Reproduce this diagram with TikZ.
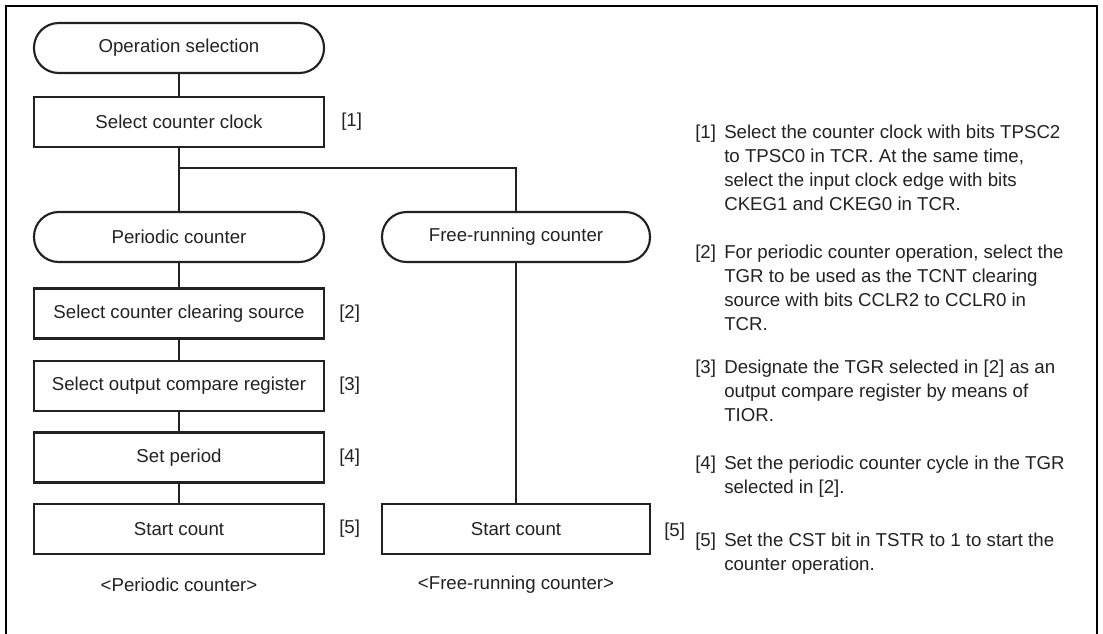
\documentclass[tikz,border=0pt]{standalone}
\usepackage{fontspec}
\setmainfont{Liberation Sans}
\definecolor{ink}{HTML}{222222}
\def\px{0.75pt}
\begin{document}
\begin{tikzpicture}[x=0.75pt,y=-0.75pt,
  every node/.style={text=ink, font=\fontsize{14}{18}\selectfont},
  term/.style={draw=ink, line width=1.6pt, rounded corners=18.5pt, minimum width=290*\px, minimum height=50*\px, inner sep=0pt},
  procbox/.style={draw=ink, line width=1.6pt, minimum width=290*\px, minimum height=50*\px, inner sep=0pt},
  conn/.style={draw=ink, line width=0.9pt},
  tag/.style={anchor=west, inner sep=0pt},
  note/.style={anchor=north west, inner sep=0pt, align=left}]
\useasboundingbox (0,0) rectangle (1103,633);
% frame
\draw[line width=1.6pt, black] (6,640) -- (6,6) -- (1097,6) -- (1097,640);
% left column
\node[term]    (op)  at (179,48)  {Operation selection};
\node[procbox] (clk) at (179,122) {Select counter clock};
\node[term]    (per) at (179,237) {Periodic counter};
\node[term, minimum width=268*\px] (fr) at (516,237) {Free-running counter};
\node[procbox] (s2) at (179,313.5) {Select counter clearing source};
\node[procbox] (s3) at (179,386) {Select output compare register};
\node[procbox] (s4) at (179,457.5) {Set period};
\node[procbox] (s5) at (179,529) {Start count};
\node[procbox, minimum width=268*\px] (f5) at (516,529) {Start count};
\coordinate (j1) at (179,168);
\coordinate (j2) at (516,168);
% connectors
\draw[conn] (op) -- (clk);
\draw[conn] (clk) -- (per);
\draw[conn] (j1) -- (j2) -- (fr);
\draw[conn] (per) -- (s2);
\draw[conn] (s2) -- (s3);
\draw[conn] (s3) -- (s4);
\draw[conn] (s4) -- (s5);
\draw[conn] (fr) -- (f5);
% step tags
\node[tag] (t1) at (341,122) {[1]};
\node[tag] (t2) at (339,313.5) {[2]};
\node[tag] (t3) at (339,386) {[3]};
\node[tag] (t4) at (339,457.5) {[4]};
\node[tag] (t5) at (339,529) {[5]};
\node[tag] (tf5) at (664,532) {[5]};
% captions
\node (cap1) at (179,585) {<Periodic counter>};
\node (cap2) at (516,585) {<Free-running counter>};
% notes
\node[note] (n1l) at (695,125) {[1]};
\node[note] (n1) at (724,125) {Select the counter clock with bits TPSC2\\to TPSC0 in TCR. At the same time,\\select the input clock edge with bits\\CKEG1 and CKEG0 in TCR.};
\node[note] (n2l) at (695,245) {[2]};
\node[note] (n2) at (724,245) {For periodic counter operation, select the\\TGR to be used as the TCNT clearing\\source with bits CCLR2 to CCLR0 in\\TCR.};
\node[note] (n3l) at (695,360) {[3]};
\node[note] (n3) at (724,360) {Designate the TGR selected in [2] as an\\output compare register by means of\\TIOR.};
\node[note] (n4l) at (695,456) {[4]};
\node[note] (n4) at (724,456) {Set the periodic counter cycle in the TGR\\selected in [2].};
\node[note] (n5l) at (695,533) {[5]};
\node[note] (n5) at (724,533) {Set the CST bit in TSTR to 1 to start the\\counter operation.};
\end{tikzpicture}
\end{document}
